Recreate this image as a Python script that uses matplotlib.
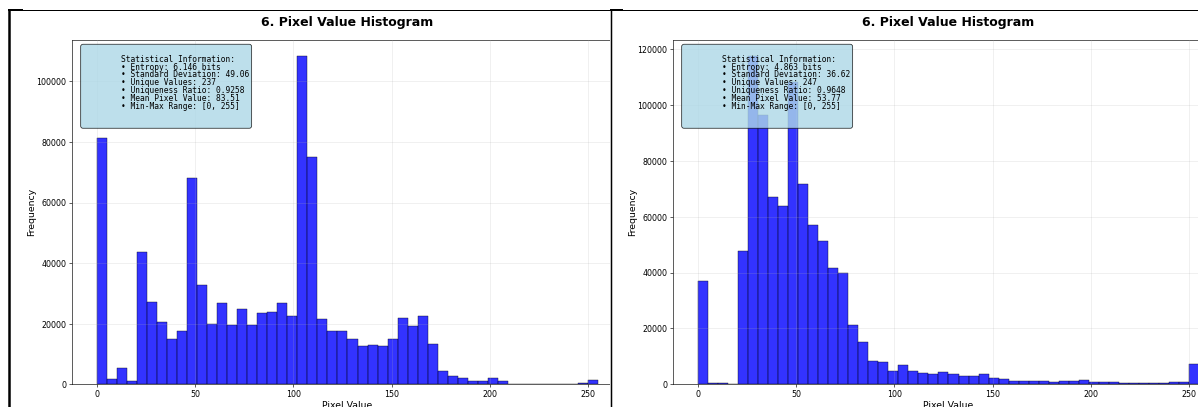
import numpy as np
import matplotlib
matplotlib.use("Agg")
import matplotlib.pyplot as plt
from matplotlib.lines import Line2D

# ---- data -------------------------------------------------------------
bin_edges = np.linspace(0, 255, 51)

counts_a = [81180, 1650, 5480, 1090, 43660, 27060, 20560, 14850, 17590, 67980,
            32670, 19900, 26830, 19570, 24750, 19570, 23480, 23760, 26830, 22440,
            108340, 74910, 21550, 17590, 17590, 14950, 12640, 12970, 12750, 14950,
            21880, 19240, 22440, 13300, 4490, 2740, 1980, 1090, 1090, 1980,
            1090, 150, 120, 80, 60, 90, 150, 200, 430, 1420]

counts_b = [37000, 360, 360, 0, 47860, 117500, 96400, 67200, 63980, 108400,
            71640, 57060, 51220, 41660, 39760, 21240, 15260, 8350, 7990, 4870,
            6800, 4870, 3940, 3580, 4510, 3580, 2970, 2970, 3690, 2150,
            1790, 1180, 1180, 1000, 1000, 820, 1180, 1180, 1540, 900,
            720, 720, 470, 400, 350, 350, 400, 820, 820, 7270]

stat_names = ["Entropy", "Standard Deviation", "Unique Values",
              "Uniqueness Ratio", "Mean Pixel Value", "Min-Max Range"]
stats_a = ["6.146 bits", "49.06", "237", "0.9258", "83.51", "[0, 255]"]
stats_b = ["4.863 bits", "36.62", "247", "0.9648", "53.77", "[0, 255]"]

title = "6. Pixel Value Histogram"

# ---- figure geometry (pixels) ------------------------------------------
W, H = 1198, 407
DPI = 56.6
PT = 72.0 / DPI  # points per pixel

fig = plt.figure(figsize=(W / DPI, (H + 0.3) / DPI), dpi=DPI)
fig.patch.set_facecolor("white")


def px_rect(x0, y0, x1, y1):
    return [x0 / W, 1 - y1 / H, (x1 - x0) / W, (y1 - y0) / H]


def stats_block(values):
    pad = " " * 8
    lines = [""]
    lines.append(pad + "Statistical Information:")
    for name, val in zip(stat_names, values):
        lines.append(pad + f"\u2022 {name}: {val}")
    lines += [pad, pad]
    return "\n".join(lines)


def draw_hist(ax, counts, values):
    ax.hist(bin_edges[:-1], bins=bin_edges, weights=counts, color="blue",
            alpha=0.8, edgecolor="black", linewidth=0.6)
    ax.set_title(title, fontsize=16, fontweight="bold", pad=18)
    ax.set_xlabel("Pixel Value", fontsize=12, labelpad=2)
    ax.set_ylabel("Frequency", fontsize=12, labelpad=0)
    ax.tick_params(labelsize=10)
    ax.grid(True, alpha=0.3)
    ax.set_axisbelow(False)
    ax.text(0.02, 0.98, stats_block(values), transform=ax.transAxes,
            va="top", ha="left", fontsize=10, family="monospace",
            linespacing=0.83,
            bbox=dict(boxstyle="round", facecolor="lightblue", alpha=0.8))


ax1 = fig.add_axes(px_rect(72, 40, 623, 384.3))
draw_hist(ax1, counts_a, stats_a)

# white backing for the second panel
cover = fig.add_axes(px_rect(610, 0, W + 5, H + 5))
cover.set_facecolor("white")
cover.set_xticks([])
cover.set_yticks([])
for s in cover.spines.values():
    s.set_visible(False)

ax2 = fig.add_axes(px_rect(673, 40, 1224, 384.3))
draw_hist(ax2, counts_b, stats_b)
ax2.set_yticks(np.arange(0, 120001, 20000))


def fig_line(xs, ys, lw_px):
    fig.add_artist(Line2D([x / W for x in xs], [1 - y / H for y in ys],
                          transform=fig.transFigure, color="black",
                          linewidth=lw_px * PT, solid_capstyle="butt"))


# panel frames
fig_line([9, 9], [10, H + 2], 2.5)
fig_line([8, W], [10.5, 10.5], 1.0)
fig_line([8, 23], [10.5, 10.5], 2.0)
fig_line([610.5, 610.5], [10, H + 2], 1.5)
fig_line([610, 623], [10.5, 10.5], 2.0)

fig.savefig("out.png", dpi=DPI, facecolor="white")
